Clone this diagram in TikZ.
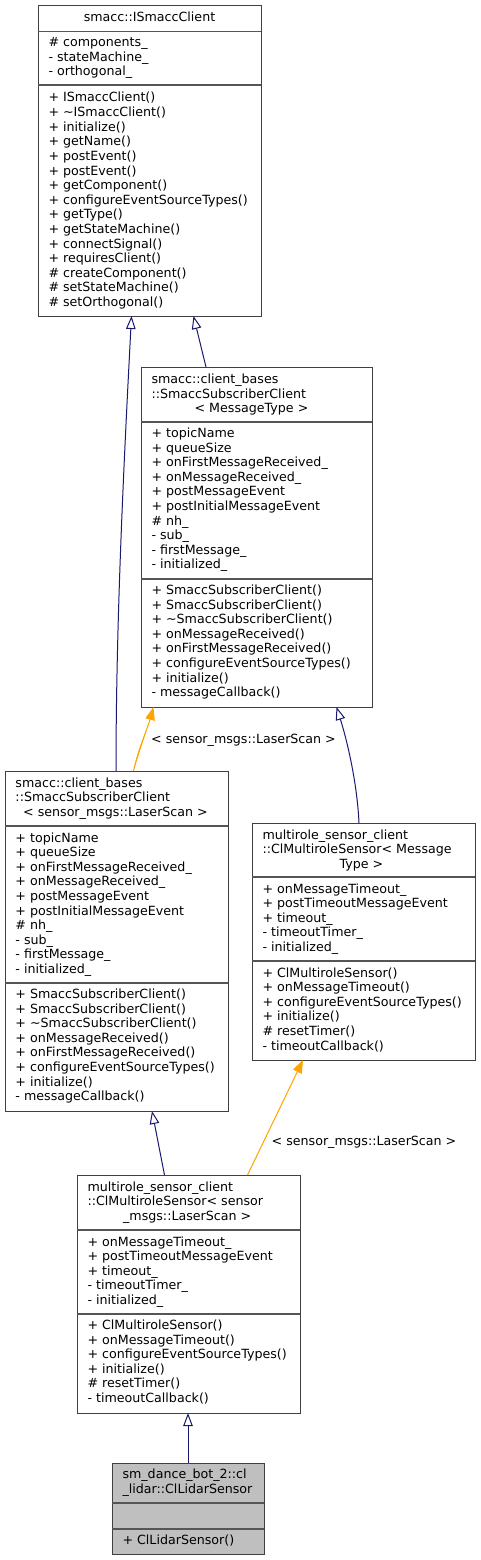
\documentclass[tikz,border=0pt]{standalone}
\usepackage{fontspec}
\setmainfont{DejaVu Sans}
\usetikzlibrary{arrows.meta}
\definecolor{edgeblue}{HTML}{191970}
\definecolor{edgeorange}{HTML}{FFA500}
\definecolor{boxline}{HTML}{404040}
\definecolor{sepline}{HTML}{555555}
\definecolor{hilite}{HTML}{BFBFBF}
\tikzset{
  classbox/.style={draw=boxline, line width=1pt, rectangle, inner sep=0pt, outer sep=0pt, anchor=north west},
  sepl/.style={draw=sepline, line width=1.3pt},
  txt/.style={inner sep=0pt, outer sep=0pt, font=\fontsize{12.65}{14.6}\selectfont},
  inh/.style={draw=edgeblue, line width=1pt, -{Triangle[open, length=13pt, width=9.5pt, line width=1pt]}},
  tmpl/.style={draw=edgeorange, line width=1pt, -{Triangle[length=13pt, width=9.5pt]}, fill=edgeorange},
}
\newcommand\classrows[4]{%
  \foreach \t [count=\i from 0] in {#4} {%
    \node[txt, anchor=base west] (#1-\i) at (#2, {#3+14.6*\i}) {\t};
  }%
}
\begin{document}
\begin{tikzpicture}[x=1pt, y=-1pt]
\useasboundingbox (0,0) rectangle (480,1560);
\fill[white] (0,0) rectangle (480,1560);

% ---------- Box 1: smacc::ISmaccClient
\node[classbox, minimum width=223pt, minimum height=310pt] (b1) at (38,6) {};
\draw[sepl] (38,31.5) -- (261,31.5);
\draw[sepl] (38,85) -- (261,85);
\node[txt, anchor=base] (b1t) at (149.5,22) {smacc::ISmaccClient};
\classrows{b1a}{48.5}{46.5}{\#~components\_,- stateMachine\_,- orthogonal\_}
\classrows{b1m}{48.5}{102}{+ ISmaccClient(),+ \textasciitilde ISmaccClient(),+ initialize(),+ getName(),+ postEvent(),+ postEvent(),+ getComponent(),+ configureEventSourceTypes(),+ getType(),+ getStateMachine(),+ connectSignal(),+ requiresClient(),\#~createComponent(),\#~setStateMachine(),\#~setOrthogonal()}

% ---------- Box 2: SmaccSubscriberClient< MessageType >
\node[classbox, minimum width=231pt, minimum height=340pt] (b2) at (141,367) {};
\draw[sepl] (141,422) -- (372,422);
\draw[sepl] (141,579) -- (372,579);
\classrows{b2t}{151.5}{383.5}{smacc::client\_bases,::SmaccSubscriberClient}
\node[txt, anchor=base] (b2t-2) at (251.5,412.7) {< MessageType >};
\classrows{b2a}{151.5}{437.5}{+ topicName,+ queueSize,+ onFirstMessageReceived\_,+ onMessageReceived\_,+ postMessageEvent,+ postInitialMessageEvent,\#~nh\_,- sub\_,- firstMessage\_,- initialized\_}
\classrows{b2m}{151.5}{594.5}{+ SmaccSubscriberClient(),+ SmaccSubscriberClient(),+ \textasciitilde SmaccSubscriberClient(),+ onMessageReceived(),+ onFirstMessageReceived(),+ configureEventSourceTypes(),+ initialize(),- messageCallback()}

% ---------- Box 3: SmaccSubscriberClient< sensor_msgs::LaserScan >
\node[classbox, minimum width=223pt, minimum height=340pt] (b3) at (5,771) {};
\draw[sepl] (5,826) -- (228,826);
\draw[sepl] (5,983) -- (228,983);
\classrows{b3t}{15.5}{787}{smacc::client\_bases,::SmaccSubscriberClient}
\node[txt, anchor=base] (b3t-2) at (115.5,816.2) {< sensor\_msgs::LaserScan >};
\classrows{b3a}{15.5}{842}{+ topicName,+ queueSize,+ onFirstMessageReceived\_,+ onMessageReceived\_,+ postMessageEvent,+ postInitialMessageEvent,\#~nh\_,- sub\_,- firstMessage\_,- initialized\_}
\classrows{b3m}{15.5}{998.5}{+ SmaccSubscriberClient(),+ SmaccSubscriberClient(),+ \textasciitilde SmaccSubscriberClient(),+ onMessageReceived(),+ onFirstMessageReceived(),+ configureEventSourceTypes(),+ initialize(),- messageCallback()}

% ---------- Box 4: ClMultiroleSensor< MessageType >
\node[classbox, minimum width=223pt, minimum height=237pt] (b4) at (252,823) {};
\draw[sepl] (252,877) -- (475,877);
\draw[sepl] (252,961) -- (475,961);
\classrows{b4t}{262.5}{839}{multirole\_sensor\_client,::ClMultiroleSensor< Message}
\node[txt, anchor=base] (b4t-2) at (361.5,868.2) {Type >};
\classrows{b4a}{262.5}{893}{+ onMessageTimeout\_,+ postTimeoutMessageEvent,+ timeout\_,- timeoutTimer\_,- initialized\_}
\classrows{b4m}{262.5}{977}{+ ClMultiroleSensor(),+ onMessageTimeout(),+ configureEventSourceTypes(),+ initialize(),\#~resetTimer(),- timeoutCallback()}

% ---------- Box 5: ClMultiroleSensor< sensor_msgs::LaserScan >
\node[classbox, minimum width=223pt, minimum height=238pt] (b5) at (77,1175) {};
\draw[sepl] (77,1230) -- (300,1230);
\draw[sepl] (77,1314) -- (300,1314);
\classrows{b5t}{87.5}{1191}{multirole\_sensor\_client,::ClMultiroleSensor< sensor}
\node[txt, anchor=base] (b5t-2) at (187.2,1220.2) {\_msgs::LaserScan >};
\classrows{b5a}{87.5}{1246}{+ onMessageTimeout\_,+ postTimeoutMessageEvent,+ timeout\_,- timeoutTimer\_,- initialized\_}
\classrows{b5m}{87.5}{1329.5}{+ ClMultiroleSensor(),+ onMessageTimeout(),+ configureEventSourceTypes(),+ initialize(),\#~resetTimer(),- timeoutCallback()}

% ---------- Box 6: ClLidarSensor
\node[classbox, fill=hilite, minimum width=152pt, minimum height=91pt] (b6) at (112,1463) {};
\draw[sepl] (112,1503) -- (264,1503);
\draw[sepl] (112,1529) -- (264,1529);
\classrows{b6t}{122.5}{1478.5}{sm\_dance\_bot\_2::cl,\_lidar::ClLidarSensor}
\classrows{b6m}{122.5}{1544.5}{+ ClLidarSensor()}

% ---------- Connectors
\draw[inh] ([xshift=111pt]b3.north west) .. controls (116,620) and (124,460) .. ([xshift=93.5pt]b1.south west);
\draw[inh] ([xshift=65pt]b2.north west) -- ([xshift=155.5pt]b1.south west);
\draw[tmpl] ([xshift=128.5pt]b3.north west) .. controls (138,750) and (148,727) .. ([xshift=12.5pt]b2.south west);
\node[txt, anchor=base] (l1) at (243.5,743.5) {< sensor\_msgs::LaserScan >};
\draw[inh] ([xshift=107pt]b4.north west) .. controls (357,780) and (346,737) .. ([xshift=195.5pt]b2.south west);
\draw[inh] ([xshift=87.5pt]b5.north west) -- ([xshift=147pt]b3.south west);
\draw[tmpl] ([xshift=170.5pt]b5.north west) -- ([xshift=51pt]b4.south west);
\node[txt, anchor=base] (l2) at (364,1145.5) {< sensor\_msgs::LaserScan >};
\draw[inh] ([xshift=76pt]b6.north west) -- ([xshift=111pt]b5.south west);
\end{tikzpicture}
\end{document}
